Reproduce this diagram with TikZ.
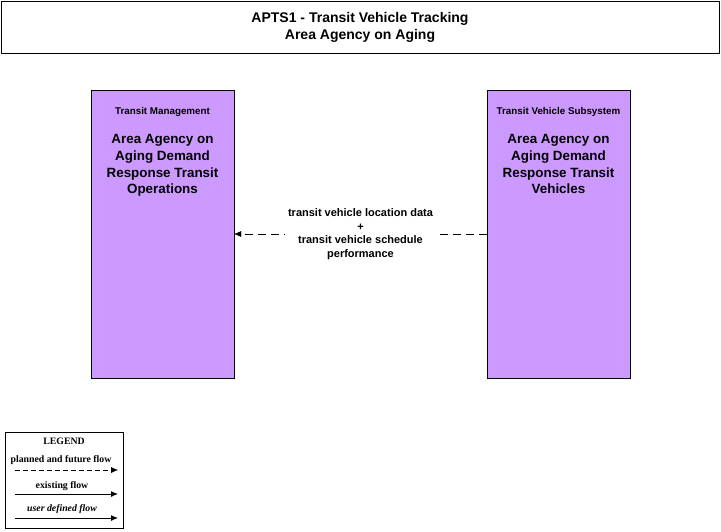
\documentclass[tikz,border=0pt]{standalone}
\usepackage{fontspec}
\setmainfont{Liberation Sans}
\newfontfamily\legendfont{Liberation Serif}
\usetikzlibrary{positioning,arrows.meta}

\definecolor{termfill}{RGB}{204,153,255}

\tikzset{
  termbox/.style={draw, fill=termfill, minimum width=143pt, minimum height=288pt, inner sep=0pt},
  termhead/.style={font=\fontsize{9.8}{11}\selectfont\bfseries, inner sep=0pt},
  termname/.style={font=\fontsize{13.4}{16.7}\selectfont\bfseries, align=center, inner sep=0pt},
  flowlabel/.style={font=\fontsize{11}{13.5}\selectfont\bfseries, align=center, fill=white, inner sep=3pt},
  legendtext/.style={font=\legendfont\fontsize{9.8}{11}\selectfont\bfseries, inner sep=0pt},
  flowtip/.style={-{Latex[length=7pt,width=6pt]}}
}

\begin{document}
\begin{tikzpicture}[x=1pt, y=-1pt]
    \useasboundingbox (0,0) rectangle (721,531);
    % title
    \draw (1,1) rectangle (719,53);
    \node[font=\fontsize{14}{17}\selectfont\bfseries, align=center] (title) at (360,27.5)
      {APTS1 - Transit Vehicle Tracking\\Area Agency on Aging};
    % terminators
    \node[termbox] (tm) at (162.5,234) {};
    \node[termbox] (tv) at (558.5,234) {};
    \node[termhead, below=17pt of tm.north] (tmhead) {Transit Management};
    \node[termhead, below=17pt of tv.north] (tvhead) {Transit Vehicle Subsystem};
    \node[termname, below=18pt of tmhead] (tmname)
      {Area Agency on\\Aging Demand\\Response Transit\\Operations};
    \node[termname, below=18pt of tvhead] (tvname)
      {Area Agency on\\Aging Demand\\Response Transit\\Vehicles};
    % flow
    \draw[flowtip, dash pattern=on 8pt off 5pt] (tv.west) -- (tm.east)
      node[flowlabel, pos=0.5] (flow) {transit vehicle location data\\+\\transit vehicle schedule\\performance};
    % legend
    \draw (5,432) rectangle (123,528);
    \node[legendtext] (lgd) at (64,441) {LEGEND};
    \node[legendtext] (lplan) at (61,460) {planned and future flow};
    \node[legendtext] (lexist) at (62,486) {existing flow};
    \node[legendtext, font=\legendfont\fontsize{9.8}{11}\selectfont\bfseries\itshape] (luser) at (62,509) {user defined flow};
    \coordinate (pa) at (15,470);  \coordinate (pb) at (118,470);
    \coordinate (ea) at (15,494);  \coordinate (eb) at (118,494);
    \coordinate (ua) at (15,518);  \coordinate (ub) at (118,518);
    \draw[flowtip, dash pattern=on 5pt off 3pt] (pa) -- (pb);
    \draw[flowtip, line width=1pt] (ea) -- (eb);
    \draw[flowtip, line width=1pt] (ua) -- (ub);
\end{tikzpicture}
\end{document}
